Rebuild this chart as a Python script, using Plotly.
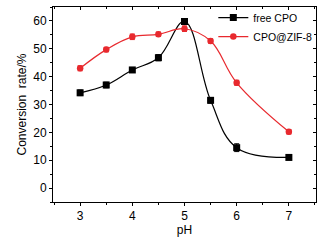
import plotly.graph_objects as go

ph = [3, 3.5, 4, 4.5, 5, 5.5, 6, 7]
free_cpo = [34.2, 37.0, 42.4, 46.8, 59.8, 31.5, 14.5, 11.0]
free_err = [1.0, 1.0, 0.9, 1.1, 0.9, 1.0, 1.4, 0.8]
zif = [43.0, 49.7, 54.3, 55.2, 57.2, 52.8, 37.8, 20.2]
zif_err = [0.9, 0.8, 1.0, 0.8, 1.0, 0.8, 0.9, 0.8]

font = "Liberation Sans, Arial, sans-serif"
fig = go.Figure()
fig.add_trace(go.Scatter(
    x=ph, y=free_cpo, name="free CPO", mode="lines+markers",
    line=dict(color="black", width=1.2, shape="spline", smoothing=1.1),
    marker=dict(symbol="square", size=7, color="black"),
    error_y=dict(type="data", array=free_err, color="black", thickness=1, width=2.5),
))
fig.add_trace(go.Scatter(
    x=ph, y=zif, name="CPO@ZIF-8", mode="lines+markers",
    line=dict(color="#e8292e", width=1.2, shape="spline", smoothing=1.1),
    marker=dict(symbol="circle", size=6.5, color="#e8292e"),
    error_y=dict(type="data", array=zif_err, color="#e8292e", thickness=1, width=2.5),
))
fig.add_trace(go.Scatter(x=[3], y=[0], xaxis="x2", yaxis="y2", showlegend=False,
                         mode="markers", marker=dict(opacity=0), hoverinfo="skip"))

fig.update_layout(
    width=326, height=246,
    margin=dict(l=53, r=10, t=7, b=44, autoexpand=False),
    paper_bgcolor="white", plot_bgcolor="white",
    font=dict(family=font, size=12, color="black"),
    showlegend=True,
    legend=dict(x=1.005, y=1.02, xanchor="right", yanchor="top",
                bgcolor="rgba(0,0,0,0)", font=dict(size=10.5),
                tracegroupgap=0, itemwidth=30),
    xaxis=dict(range=[2.48, 7.52], tickvals=[3, 4, 5, 6, 7], ticks="outside",
               ticklen=3, tickwidth=1, tickcolor="black", showline=True,
               linecolor="black", linewidth=1, showgrid=False, zeroline=False,
               automargin=False,
               minor=dict(dtick=0.5, tick0=3, ticks="outside", ticklen=2, tickcolor="black"),
               title=dict(text="pH", standoff=2, font=dict(size=12))),
    yaxis=dict(range=[-5, 65], tickvals=[0, 10, 20, 30, 40, 50, 60], ticks="outside",
               ticklen=3, tickwidth=1, tickcolor="black", showline=True,
               linecolor="black", linewidth=1, showgrid=False, zeroline=False,
               automargin=False,
               minor=dict(dtick=5, tick0=0, ticks="outside", ticklen=2, tickcolor="black"),
               title=dict(text="Conversion  rate/%", standoff=4, font=dict(size=12))),
    xaxis2=dict(range=[2.48, 7.52], overlaying="x", side="top", anchor="y2",
                tickvals=[3, 4, 5, 6, 7], ticks="inside", ticklen=3, tickcolor="black",
                showticklabels=False, showline=True, linecolor="black", linewidth=1,
                showgrid=False, zeroline=False, automargin=False,
                minor=dict(dtick=0.5, tick0=3, ticks="inside", ticklen=2, tickcolor="black")),
    yaxis2=dict(range=[-5, 65], overlaying="y", side="right", anchor="x2",
                tickvals=[0, 10, 20, 30, 40, 50, 60], ticks="inside", ticklen=3,
                tickcolor="black", showticklabels=False, showline=True,
                linecolor="black", linewidth=1, showgrid=False, zeroline=False,
                automargin=False,
                minor=dict(dtick=5, tick0=0, ticks="inside", ticklen=2, tickcolor="black")),
)
fig.write_html("out.html", config={"displayModeBar": False},
               post_script="document.body.style.margin='0';document.body.style.padding='0';")
